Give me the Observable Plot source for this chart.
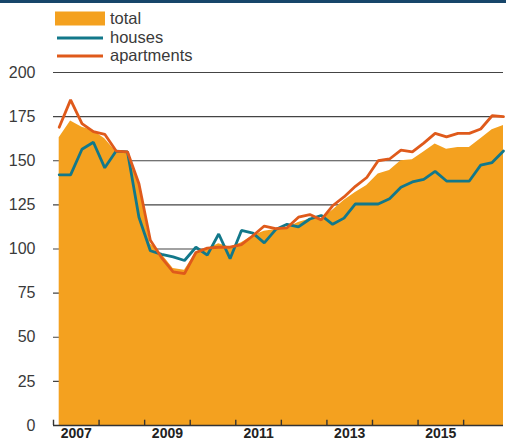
<!DOCTYPE html>
<html>
<head>
<meta charset="utf-8">
<script src="https://cdn.jsdelivr.net/npm/d3@7"></script>
<script src="https://cdn.jsdelivr.net/npm/@observablehq/plot@0.6"></script>
<style>
  html, body { margin: 0; padding: 0; background: #fff; }
  #wrap { position: relative; width: 506px; height: 443px; overflow: hidden; font-family: "Liberation Sans", Arial, sans-serif; }
  #bar { position: absolute; left: 0; top: 0; width: 506px; height: 3px; background: #17466a; }
  #legend { position: absolute; left: 0; top: 0; width: 506px; height: 62px; }
  .item { position: absolute; left: 55px; height: 18px; display: flex; align-items: center; }
  .item span { font-size: 16.5px; color: #3a3a3a; margin-left: 5px; }
  #chart { position: absolute; left: 0; top: 62px; }
</style>
</head>
<body>
<div id="wrap">
  <div id="bar"></div>
  <div id="legend"></div>
  <div id="chart"></div>
</div>
<script>
// Quarterly index values, 2007 Q1 – 2016 Q4
const startYear = 2007;
const total = [163,172.5,169,167,162.5,155,155,137,103,97,89,88,98,100,103,101,103.5,107.5,110,111,112,115,117,117,122,127.5,132,136,142.5,144.5,150,150.5,155,159.5,156.5,157.5,157.5,162.5,167.5,170];
const houses = [142,142,156.5,160.5,146,155.5,155,118,99,97,95.5,93.5,101,96.5,108.5,94.5,110.5,109,103.5,111,114,112.5,117,119,114,117.5,125.5,125.5,125.5,128.5,135,138,139.5,144,138.5,138.5,138.5,147.5,149,155.5];
const apartments = [169,184.5,171,166.5,165,155.5,155,137,105,95,87,86,98,100.5,101,101,102.5,107.5,113,111.5,112,118,119.5,116.5,124.5,129.5,135.5,140.5,150,151,156,155,160,165.5,163.5,165.5,165.5,168,175.5,175];
const yTicks = [0,25,50,75,100,125,150,175,200];
const yearTicks = [2007,2008,2009,2010,2011,2012,2013,2014,2015,2016];
const yearLabels = [2007,2009,2011,2013,2015];
const seriesNames = ["total","houses","apartments"];
const colors = {total: "#f4a11f", houses: "#12788a", apartments: "#df5a1b"};

const t = total.map((_, i) => startYear + (i + 0.5) / 4);
const rows = t.map((x, i) => ({t: x, total: total[i], houses: houses[i], apartments: apartments[i]}));

// legend
const legend = document.getElementById("legend");
const legendTops = [9.5, 28.5, 46.5];
seriesNames.forEach((name, k) => {
  const div = document.createElement("div");
  div.className = "item";
  div.style.top = legendTops[k] + "px";
  const sw = k === 0
    ? `<svg width="50" height="15"><rect x="0" y="0.5" width="50" height="14" fill="${colors[name]}"/></svg>`
    : `<svg width="50" height="15"><line x1="2" x2="48" y1="8" y2="8" stroke="${colors[name]}" stroke-width="3"/></svg>`;
  div.innerHTML = sw + `<span>${name}</span>`;
  legend.appendChild(div);
});

const plot = Plot.plot({
  width: 506,
  height: 381,
  marginTop: 10,
  marginBottom: 18,
  marginLeft: 53,
  marginRight: 3,
  style: {fontFamily: "'Liberation Sans', Arial, sans-serif", background: "transparent", overflow: "visible"},
  x: {domain: [2007, 2016.875]},
  y: {domain: [0, 200]},
  marks: [
    Plot.ruleY(yTicks.filter(d => d > 0), {stroke: "#444", strokeWidth: 1.2}),
    Plot.areaY(rows, {x: "t", y: "total", fill: colors.total}),
    Plot.line(rows, {x: "t", y: "houses", stroke: colors.houses, strokeWidth: 2.8, strokeLinejoin: "miter"}),
    Plot.line(rows, {x: "t", y: "apartments", stroke: colors.apartments, strokeWidth: 2.8, strokeLinejoin: "miter"}),
    Plot.ruleY([0], {stroke: "#333", strokeWidth: 1.6}),
    Plot.ruleX(yearTicks, {x: d => d, y1: 0, y2: 3, stroke: "#333", strokeWidth: 1.4}),
    Plot.axisY({ticks: yTicks, tickSize: 0, tickPadding: 18, fontSize: 16, color: "#3a3a3a", label: null}),
    Plot.axisX({ticks: yearLabels.map(y => y + 0.5), tickFormat: d => String(Math.floor(d)), tickSize: 0, tickPadding: 3, fontSize: 14, fontWeight: "bold", color: "#222", label: null})
  ]
});
document.getElementById("chart").appendChild(plot);
</script>
</body>
</html>
